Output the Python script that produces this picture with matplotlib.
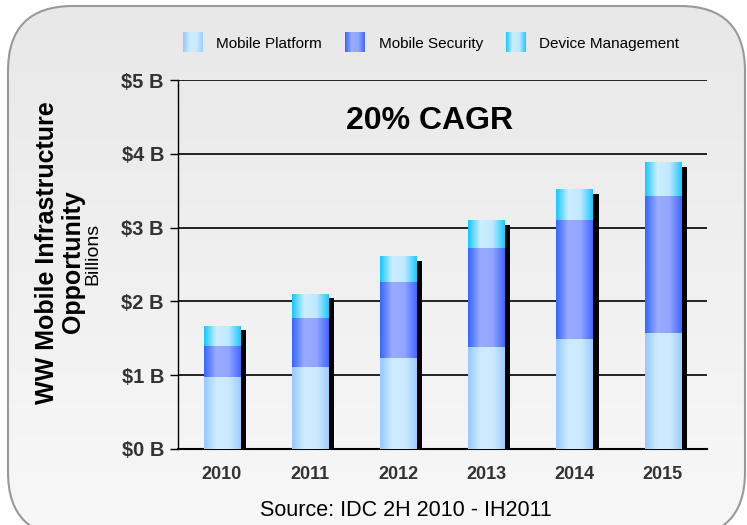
import numpy as np
import matplotlib
matplotlib.use('Agg')
import matplotlib.pyplot as plt
from matplotlib.colors import LinearSegmentedColormap
from matplotlib.patches import FancyBboxPatch
from matplotlib.transforms import Affine2D, Bbox, TransformedBbox
from matplotlib.image import BboxImage
from matplotlib.legend_handler import HandlerBase

plt.rcParams['font.family'] = ['Liberation Sans', 'DejaVu Sans']

# Donnees (milliards de dollars)
years = ['2010', '2011', '2012', '2013', '2014', '2015']
platform = [0.98, 1.11, 1.23, 1.38, 1.49, 1.57]
security = [0.42, 0.67, 1.03, 1.34, 1.61, 1.86]
device = [0.27, 0.32, 0.34, 0.37, 0.41, 0.45]
series_names = ['Mobile Platform', 'Mobile Security', 'Device Management']
y_ticks = [0, 1, 2, 3, 4, 5]
y_labels = ['$0 B', '$1 B', '$2 B', '$3 B', '$4 B', '$5 B']

# Degrades horizontaux (bord fonce, centre clair)
cmaps = [
    LinearSegmentedColormap.from_list('plat', ['#96c8ff', '#cdebff', '#cdebff', '#9ccdff']),
    LinearSegmentedColormap.from_list('sec', ['#3366ff', '#9aabff', '#90a6ff', '#4466ff']),
    LinearSegmentedColormap.from_list('dev', ['#12c8ff', '#cdeeff', '#c0e8ff', '#18caff']),
]
grad = np.linspace(0, 1, 256).reshape(1, -1)

fig = plt.figure(figsize=(7.47, 5.25), dpi=100)
fig.patch.set_facecolor('white')

# Fond arrondi avec degrade vertical
bg = fig.add_axes([0, 0, 1, 1], zorder=-10)
bg.set_xlim(0, 747)
bg.set_ylim(0, 525)
bg.axis('off')
box = FancyBboxPatch((8, -12), 737, 531, boxstyle='round,pad=0,rounding_size=65',
                     facecolor='none', edgecolor='#999999', linewidth=1.5, zorder=1)
bg.add_patch(box)
vgrad = np.linspace(0, 1, 256).reshape(-1, 1)
bcmap = LinearSegmentedColormap.from_list('bg', ['#e8e8e8', '#f8f8f8'])
im = bg.imshow(vgrad, cmap=bcmap, extent=[8, 745, -12, 519], origin='upper',
               aspect='auto', zorder=0)
im.set_clip_path(box)

ax = fig.add_axes([0.238, 0.145, 0.708, 0.7025])
ax.set_facecolor('none')

x = np.arange(len(years))
width = 0.41
bottoms = [np.zeros(len(years)), np.array(platform), np.array(platform) + np.array(security)]
totals = np.array(platform) + np.array(security) + np.array(device)

# Ombres
shadow_tr = ax.transData + Affine2D().translate(6, -4)
ax.bar(x, totals, width=width, color='black', transform=shadow_tr, zorder=2)

for vals, bot, cm in zip([platform, security, device], bottoms, cmaps):
    bars = ax.bar(x, vals, width=width, bottom=bot, color='none', zorder=3)
    for p in bars.patches:
        x0, y0 = p.get_x(), p.get_y()
        ax.imshow(grad, cmap=cm, extent=[x0, x0 + p.get_width(), y0, y0 + p.get_height()],
                  aspect='auto', zorder=3, interpolation='bicubic')

ax.set_xlim(-0.5, len(years) - 0.5)
ax.set_ylim(0, 5)
ax.set_yticks(y_ticks)
ax.set_yticklabels(y_labels, fontsize=14.5, fontweight='bold', color='#333333')
ax.set_xticks(x)
ax.set_xticklabels(years, fontsize=13, fontweight='bold', color='#333333')
ax.tick_params(axis='x', length=0, pad=12)
ax.tick_params(axis='y', length=6, width=1, color='black', pad=4)
for yv in y_ticks[1:]:
    ax.axhline(yv, color='black', linewidth=1.2, zorder=1)
for s in ['top', 'right']:
    ax.spines[s].set_visible(False)
ax.spines['left'].set_linewidth(1)
ax.spines['bottom'].set_linewidth(1.5)

fig.text(430 / 747, 1 - 121 / 525, '20% CAGR', ha='center', va='center',
         fontsize=23, fontweight='bold', color='black')

fig.text(47 / 747, 1 - 253 / 525, 'WW Mobile Infrastructure', rotation=90, ha='center',
         va='center', fontsize=18, fontweight='bold')
fig.text(73 / 747, 1 - 262 / 525, 'Opportunity', rotation=90, ha='center',
         va='center', fontsize=18, fontweight='bold')
fig.text(93 / 747, 1 - 254 / 525, 'Billions', rotation=90, ha='center',
         va='center', fontsize=14)
fig.text(406 / 747, 1 - 510 / 525, 'Source: IDC 2H 2010 - IH2011', ha='center',
         va='center', fontsize=15.5)


class GradHandler(HandlerBase):
    def __init__(self, cmap):
        super().__init__()
        self.cmap = cmap

    def create_artists(self, legend, orig_handle, xdescent, ydescent, width, height,
                       fontsize, trans):
        bb = Bbox.from_bounds(-xdescent, -ydescent - 3, width, height + 6)
        img = BboxImage(TransformedBbox(bb, trans), cmap=self.cmap, interpolation='bicubic')
        img.set_data(grad)
        return [img]


handles = [plt.Rectangle((0, 0), 1, 1) for _ in series_names]
ax.legend(handles, series_names, handler_map={h: GradHandler(c) for h, c in zip(handles, cmaps)},
          loc='center', bbox_to_anchor=(431 / 747, 1 - 44 / 525), bbox_transform=fig.transFigure,
          ncol=3, frameon=False, fontsize=11, handlelength=1.3, handletextpad=0.9,
          columnspacing=1.5)

fig.savefig('out.png', dpi=100)
